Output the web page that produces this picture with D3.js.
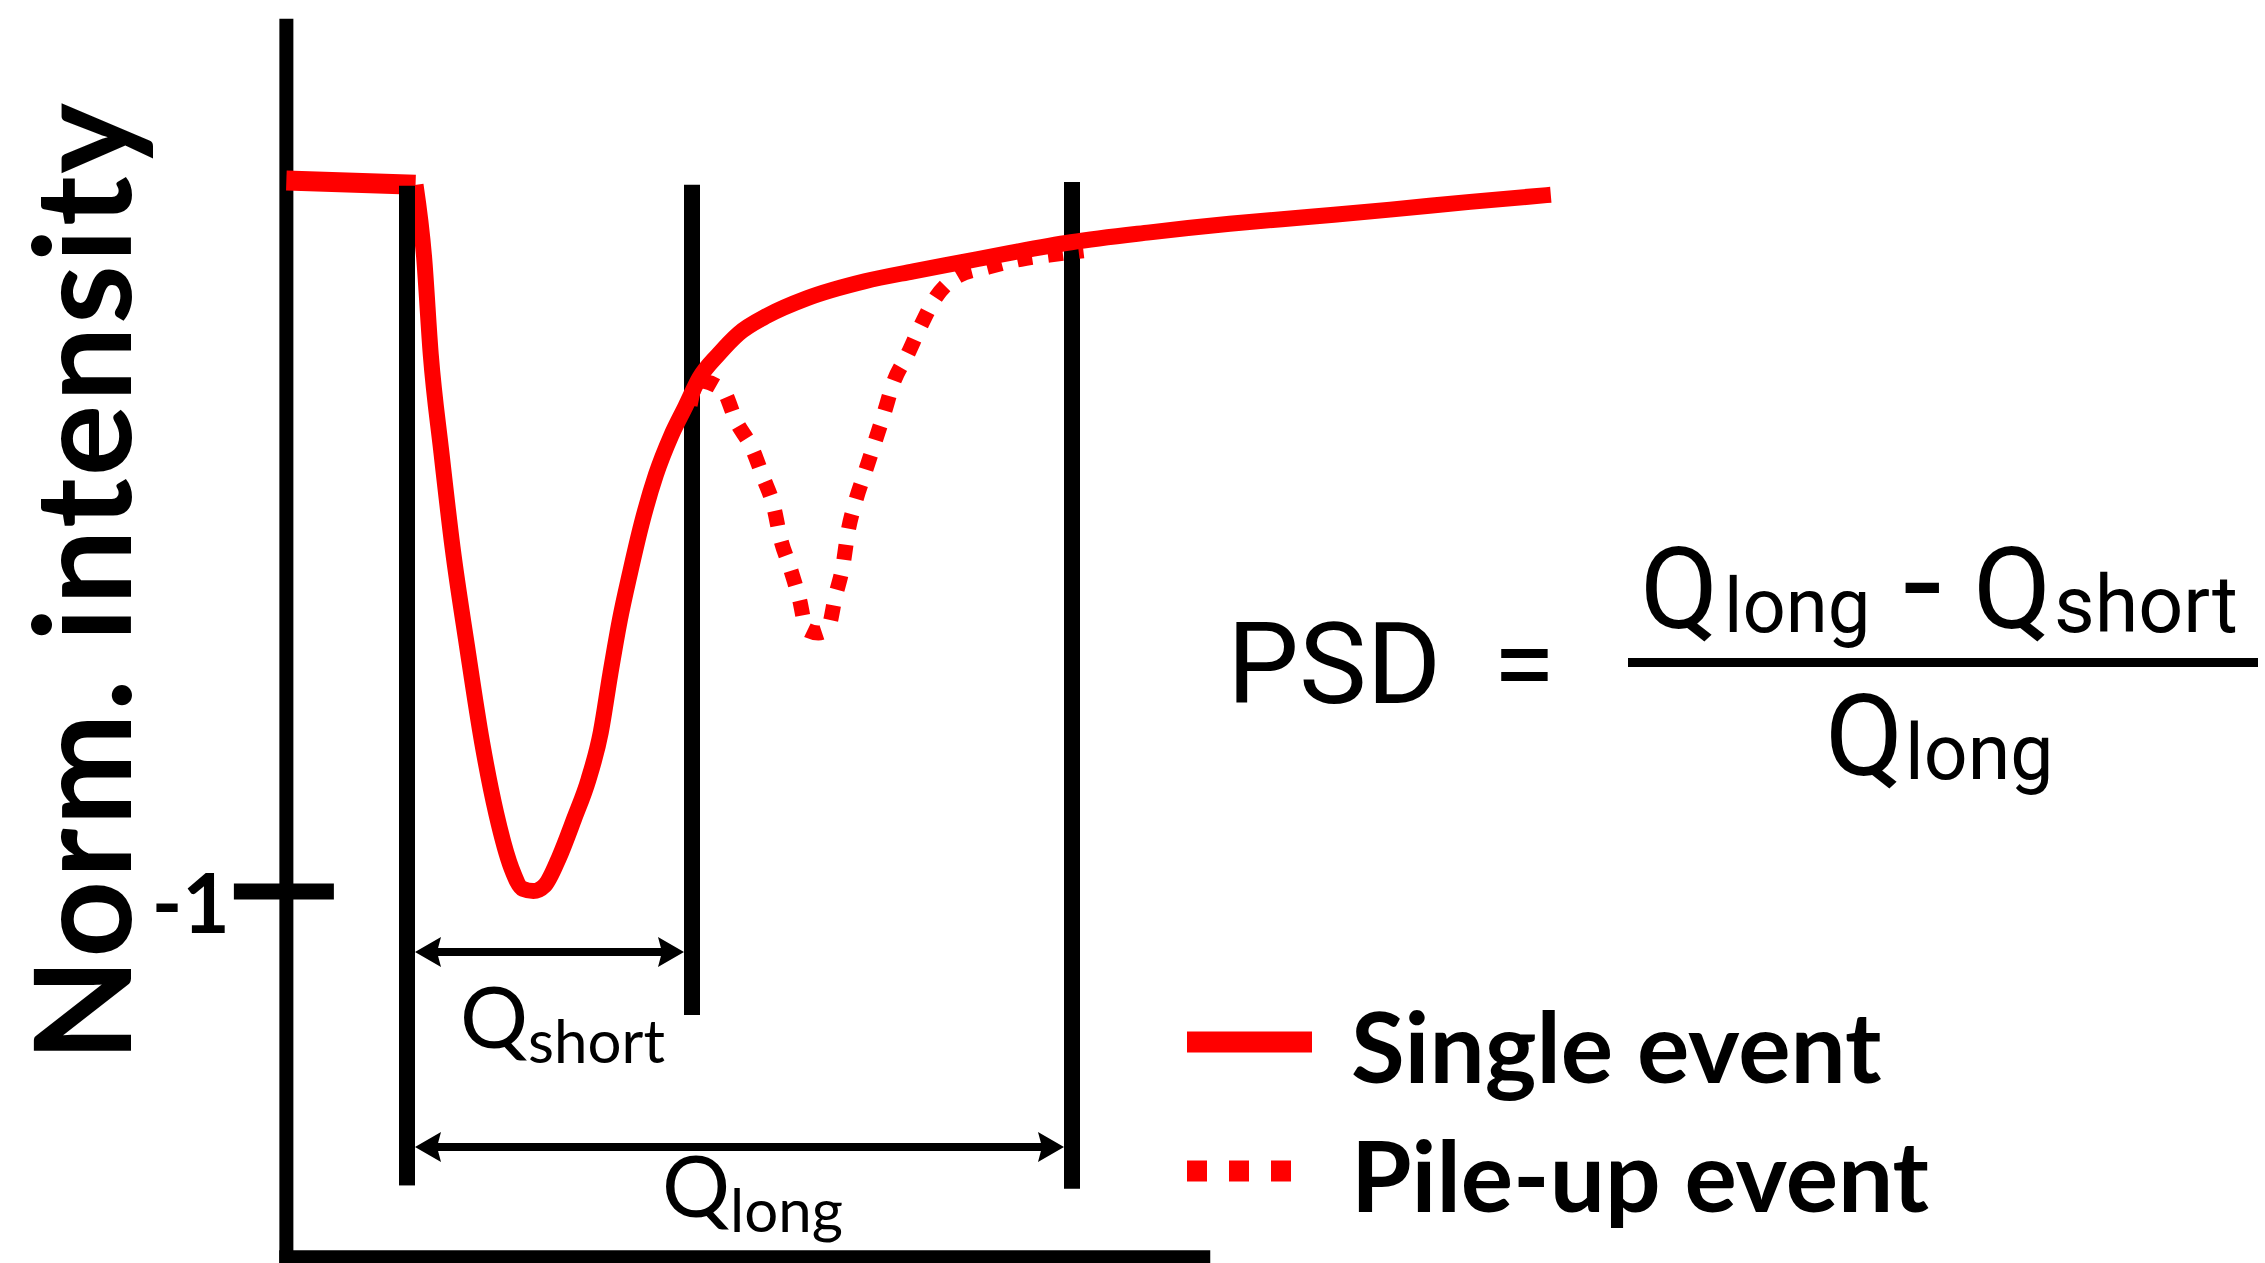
<!DOCTYPE html>
<html>
<head>
<meta charset="utf-8">
<script src="https://cdn.jsdelivr.net/npm/d3@7"></script>
<style>
  body { margin: 0; background: #fff; }
  svg { display: block; background: #fff; }
</style>
</head>
<body>
<svg></svg>
<script>
var width = 2265;
var height = 1263;

// single event: time after trigger (ns) and normalized intensity
var singleTime = [-12.7, 0.9, 1.8, 2.5, 3.6, 4.8, 6.3, 7.9, 9.4, 11.0, 12.2, 13.3, 14.5, 16.0, 17.6, 19.1, 20.4, 21.4, 22.4, 23.5, 24.7, 26.2, 27.8, 29.3, 30.8, 32.8, 34.9, 38.0, 42.1, 48.2, 53.3, 58.4, 63.5, 69.9, 78.2, 86.6, 95.1, 103.5, 111.9, 120.4];
var singleValue = [0.002, -0.004, -0.106, -0.243, -0.379, -0.516, -0.653, -0.79, -0.891, -0.968, -0.997, -1.0, -0.992, -0.953, -0.898, -0.843, -0.776, -0.694, -0.618, -0.55, -0.482, -0.413, -0.358, -0.317, -0.276, -0.243, -0.214, -0.188, -0.164, -0.14, -0.126, -0.113, -0.1, -0.085, -0.071, -0.059, -0.049, -0.039, -0.028, -0.018];

// pile-up event (second pulse on the tail)
var pileTime = [29.8, 30.6, 33.2, 34.7, 36.3, 37.5, 38.6, 39.3, 40.3, 41.3, 42.1, 43.3, 44.3, 45.1, 45.9, 46.4, 47.2, 48.2, 49.2, 50.2, 51.2, 52.7, 54.0, 55.6, 58.1, 61.2, 64.6, 67.6, 71.2];
var pileValue = [-0.315, -0.28, -0.293, -0.339, -0.375, -0.417, -0.458, -0.502, -0.543, -0.588, -0.632, -0.636, -0.63, -0.584, -0.54, -0.495, -0.451, -0.41, -0.369, -0.327, -0.283, -0.243, -0.205, -0.164, -0.132, -0.12, -0.109, -0.103, -0.097];

// integration gates
var gateTimes = [0, 30, 70];
var gateTops = [0.003, -0.004, 0];
var gateBottoms = [-1.415, -1.175, -1.42];

// gate arrows: start gate, end gate, level, subscript
var arrowFrom = [0, 0];
var arrowTo = [1, 2];
var arrowLevels = [-1.086, -1.361];
var arrowSubs = ["short", "long"];

var yTicks = [-1];
var legendLabels = ["Single event", "Pile-up event"];

var svg = d3.select("svg")
  .attr("width", width)
  .attr("height", height);

var xScale = d3.scaleLinear()
  .domain([0, 70])
  .range([407, 1072]);

var yScale = d3.scaleLinear()
  .domain([0, -1])
  .range([182, 891]);

var red = "#ff0000";

// y axis with the single -1 tick crossing it
var yAxisScale = d3.scaleLinear()
  .domain([0.231, -1.525])
  .range([yScale(0.231), yScale(-1.525)]);

var yAxis = svg.append("g")
  .attr("transform", "translate(" + xScale(-12.75) + ",0)")
  .call(d3.axisLeft(yAxisScale)
    .tickValues(yTicks)
    .tickFormat(d => String(d))
    .tickSizeOuter(0)
    .tickSizeInner(52)
    .tickPadding(4));

yAxis.select(".domain").attr("stroke", "#000").attr("stroke-width", 14);
yAxis.selectAll(".tick line").attr("x1", 48).attr("stroke-width", 16);
yAxis.selectAll(".tick text")
  .attr("dy", null)
  .attr("y", 41)
  .attr("font-family", "Lato, sans-serif")
  .attr("font-weight", "bold")
  .attr("font-size", 82)
  .attr("fill", "#000");

// x axis, no ticks
var xAxisScale = d3.scaleLinear()
  .domain([-13.5, 84.5])
  .range([xScale(-13.5), xScale(84.5)]);

var xAxis = svg.append("g")
  .attr("transform", "translate(0," + yScale(-1.516) + ")")
  .call(d3.axisBottom(xAxisScale).tickValues([]).tickSizeOuter(0));

xAxis.select(".domain").attr("stroke", "#000").attr("stroke-width", 14);

// y label
svg.append("text")
  .attr("transform", "translate(131,581) rotate(-90)")
  .attr("text-anchor", "middle")
  .attr("font-family", "Lato, sans-serif")
  .attr("font-weight", "bold")
  .attr("font-size", 134)
  .attr("letter-spacing", 2.5)
  .text("Norm. intensity");

// gate lines
svg.selectAll(".gate")
  .data(gateTimes)
  .enter()
  .append("line")
  .attr("class", "gate")
  .attr("x1", d => xScale(d))
  .attr("x2", d => xScale(d))
  .attr("y1", (d, i) => yScale(gateTops[i]))
  .attr("y2", (d, i) => yScale(gateBottoms[i]))
  .attr("stroke", "#000")
  .attr("stroke-width", 16);

// pulses
var singleData = singleTime.map((t, i) => ({ t: t, v: singleValue[i] }));
var pileData = pileTime.map((t, i) => ({ t: t, v: pileValue[i] }));

var line = d3.line()
  .x(d => xScale(d.t))
  .y(d => yScale(d.v))
  .curve(d3.curveMonotoneX);

svg.append("path")
  .datum(pileData)
  .attr("d", line)
  .attr("fill", "none")
  .attr("stroke", red)
  .attr("stroke-width", 15)
  .attr("stroke-dasharray", "15,16");

svg.append("path")
  .datum(singleData.filter(d => d.t <= 0.9))
  .attr("d", line)
  .attr("fill", "none")
  .attr("stroke", red)
  .attr("stroke-width", 20);

svg.append("path")
  .datum(singleData.filter(d => d.t >= 0.9))
  .attr("d", line)
  .attr("fill", "none")
  .attr("stroke", red)
  .attr("stroke-width", 16)
  .attr("stroke-linejoin", "round");

// the trigger gate sits on top of the pulse start
svg.append("line")
  .attr("x1", xScale(gateTimes[0]))
  .attr("x2", xScale(gateTimes[0]))
  .attr("y1", yScale(gateTops[0]) + 6)
  .attr("y2", yScale(gateBottoms[0]))
  .attr("stroke", "#000")
  .attr("stroke-width", 16);

// gate arrows
var headLen = 26;
var headHalf = 15;
var gateHalf = 8;

var arrows = svg.selectAll(".arrow")
  .data(arrowLevels)
  .enter()
  .append("g")
  .attr("class", "arrow");

arrows.append("line")
  .attr("x1", (d, i) => xScale(gateTimes[arrowFrom[i]]) + gateHalf + 10)
  .attr("x2", (d, i) => xScale(gateTimes[arrowTo[i]]) - gateHalf - 10)
  .attr("y1", d => yScale(d))
  .attr("y2", d => yScale(d))
  .attr("stroke", "#000")
  .attr("stroke-width", 8);

arrows.append("path")
  .attr("d", (d, i) => {
    var x = xScale(gateTimes[arrowFrom[i]]) + gateHalf;
    var y = yScale(d);
    return "M" + x + "," + y + "L" + (x + headLen) + "," + (y - headHalf) +
      "L" + (x + headLen - 4) + "," + y + "L" + (x + headLen) + "," + (y + headHalf) + "Z";
  })
  .attr("fill", "#000");

arrows.append("path")
  .attr("d", (d, i) => {
    var x = xScale(gateTimes[arrowTo[i]]) - gateHalf;
    var y = yScale(d);
    return "M" + x + "," + y + "L" + (x - headLen) + "," + (y - headHalf) +
      "L" + (x - headLen + 4) + "," + y + "L" + (x - headLen) + "," + (y + headHalf) + "Z";
  })
  .attr("fill", "#000");

// Q labels under arrows
var labelDrop = [96, 70];
var qLabels = arrows.append("text")
  .attr("x", (d, i) => (xScale(gateTimes[arrowFrom[i]]) + xScale(gateTimes[arrowTo[i]])) / 2 + 13)
  .attr("y", (d, i) => yScale(d) + labelDrop[i])
  .attr("text-anchor", "middle")
  .attr("font-family", "Lato, sans-serif")
  .attr("fill", "#000");

qLabels.append("tspan").attr("font-size", 85).text("Q");
qLabels.append("tspan")
  .attr("font-size", 60)
  .attr("dy", 15)
  .text((d, i) => arrowSubs[i]);

// PSD formula
var formula = svg.append("g")
  .attr("font-family", "Roboto, sans-serif")
  .attr("fill", "#000");

formula.append("text")
  .attr("x", 1227)
  .attr("y", 703)
  .attr("font-size", 114)
  .text("PSD");

formula.append("text")
  .attr("x", 1524)
  .attr("y", 703)
  .attr("text-anchor", "middle")
  .attr("font-size", 114)
  .text("=");

formula.append("line")
  .attr("x1", 1628)
  .attr("x2", 2258)
  .attr("y1", 662.5)
  .attr("y2", 662.5)
  .attr("stroke", "#000")
  .attr("stroke-width", 9);

var num = formula.append("text").attr("y", 628);
num.append("tspan").attr("x", 1640).attr("font-size", 114).text("Q");
num.append("tspan").attr("x", 1724).attr("font-size", 76).attr("dy", 4).text("long");
num.append("tspan").attr("x", 1903).attr("font-size", 140).attr("dy", -2).text("-");
num.append("tspan").attr("x", 1973).attr("font-size", 114).attr("dy", -2).text("Q");
num.append("tspan").attr("x", 2054).attr("font-size", 79).attr("dy", 4).text("short");

var den = formula.append("text").attr("y", 775);
den.append("tspan").attr("x", 1825).attr("font-size", 114).text("Q");
den.append("tspan").attr("x", 1905).attr("font-size", 77).attr("dy", 4).text("long");

// legend
var legendY = [1042, 1171];
var legend = svg.selectAll(".legend")
  .data(legendLabels)
  .enter()
  .append("g")
  .attr("class", "legend")
  .attr("transform", (d, i) => "translate(1187," + legendY[i] + ")");

legend.append("line")
  .attr("x1", 0)
  .attr("x2", (d, i) => (i === 0 ? 125 : 105))
  .attr("y1", 0)
  .attr("y2", 0)
  .attr("stroke", red)
  .attr("stroke-width", 21)
  .attr("stroke-dasharray", (d, i) => (i === 0 ? null : "20,22"));

legend.append("text")
  .attr("x", 164)
  .attr("y", 41)
  .attr("font-family", "Lato, sans-serif")
  .attr("font-weight", "bold")
  .attr("font-size", 98)
  .attr("fill", "#000")
  .text(d => d);
</script>
</body>
</html>
